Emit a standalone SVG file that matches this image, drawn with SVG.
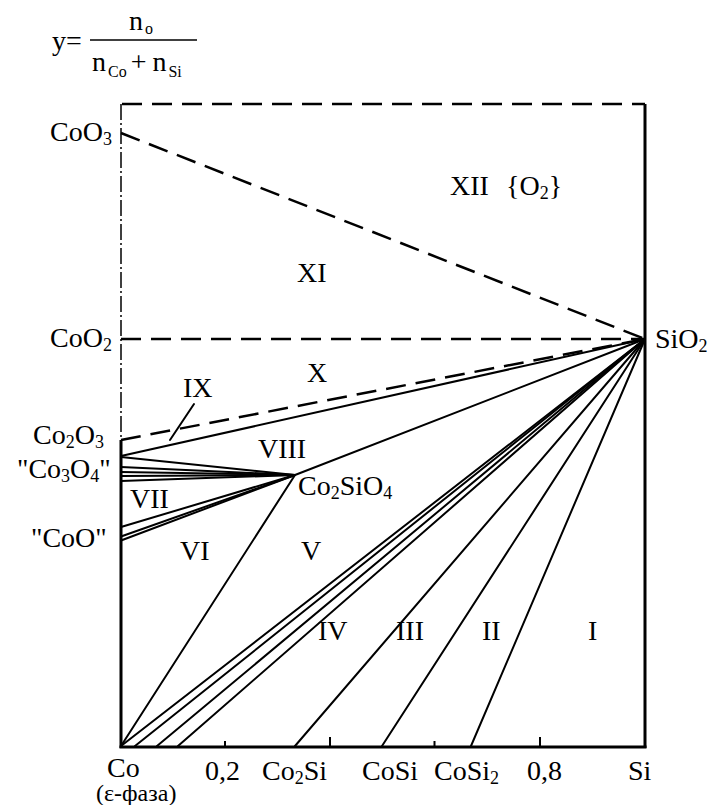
<svg xmlns="http://www.w3.org/2000/svg" width="710" height="805" viewBox="0 0 710 805" font-family="'Liberation Serif', 'DejaVu Serif', 'Times New Roman', serif">
<style>
text{font-family:'Liberation Serif','DejaVu Serif','Times New Roman',serif;font-size:28px;fill:#000}
.sub{font-size:18px}
.fs{font-size:16px}
.ln{stroke:#000;stroke-width:2;fill:none;stroke-linecap:round}
.ds{stroke:#000;stroke-width:2.5;fill:none;stroke-dasharray:20 10}
.ax{stroke:#000;stroke-width:3;fill:none}
.dd{stroke:#000;stroke-width:1.5;fill:none;stroke-dasharray:16 3 2 3}
</style>
<rect width="710" height="805" fill="#fff"/>
<g id="formula">
<text x="52" y="50">y=</text>
<text x="129" y="30">n<tspan class="fs" dx="2" dy="4">o</tspan></text>
<line x1="90" y1="40" x2="197" y2="40" stroke="#000" stroke-width="1.5"/>
<text x="92" y="71">n<tspan class="fs" dx="2" dy="6">Co</tspan><tspan dx="4" dy="-6">+</tspan><tspan dx="6">n</tspan><tspan class="fs" dx="2" dy="6">Si</tspan></text>
</g>
<g id="frame">
<line class="ds" x1="122" y1="104" x2="645" y2="104"/>
<line class="dd" x1="121" y1="104" x2="121" y2="440"/>
<line class="ax" x1="121" y1="440" x2="121" y2="748"/>
<line class="ax" x1="645" y1="104" x2="645" y2="748"/>
<line class="ax" x1="119.5" y1="747" x2="646.5" y2="747"/>
<line x1="225" y1="747" x2="225" y2="741" stroke="#000" stroke-width="2"/>
<line x1="330" y1="747" x2="330" y2="737" stroke="#000" stroke-width="2"/>
<line x1="434.5" y1="747" x2="434.5" y2="741" stroke="#000" stroke-width="2"/>
<line x1="540" y1="747" x2="540" y2="737" stroke="#000" stroke-width="2"/>
</g>
<g id="connectors">
<line class="ds" x1="121" y1="133" x2="645" y2="339"/>
<line class="ds" x1="121" y1="339" x2="645" y2="339"/>
<line class="ds" x1="121" y1="440" x2="645" y2="339"/>
<line class="ln" x1="121" y1="456" x2="645" y2="339"/>
<line class="ln" x1="295" y1="475" x2="645" y2="339"/>
<line class="ln" x1="121" y1="457" x2="295" y2="475"/>
<line class="ln" x1="121" y1="467" x2="295" y2="475"/>
<line class="ln" x1="121" y1="472" x2="295" y2="475"/>
<line class="ln" x1="121" y1="476" x2="295" y2="475"/>
<line class="ln" x1="121" y1="481" x2="295" y2="475"/>
<line class="ln" x1="121" y1="527" x2="295" y2="475"/>
<line class="ln" x1="121" y1="536.5" x2="295" y2="475"/>
<line class="ln" x1="121" y1="540.5" x2="295" y2="475"/>
<line class="ln" x1="121" y1="746" x2="295" y2="475"/>
<line class="ln" x1="121" y1="746" x2="645" y2="339"/>
<line class="ln" x1="135" y1="746" x2="645" y2="339"/>
<line class="ln" x1="157" y1="746" x2="645" y2="339"/>
<line class="ln" x1="178" y1="746" x2="645" y2="339"/>
<line class="ln" x1="295" y1="746" x2="645" y2="339"/>
<line class="ln" x1="382" y1="746" x2="645" y2="339"/>
<line class="ln" x1="471" y1="746" x2="645" y2="339"/>
<line class="ln" x1="194" y1="404" x2="170" y2="440" stroke-width="1.5"/>
</g>
<g id="labels-left">
<text x="50" y="141">CoO<tspan class="sub" dy="4">3</tspan></text>
<text x="50" y="347">CoO<tspan class="sub" dy="4">2</tspan></text>
<text x="33" y="444">Co<tspan class="sub" dy="4">2</tspan><tspan dy="-4">O</tspan><tspan class="sub" dy="4">3</tspan></text>
<text x="17" y="478">"Co<tspan class="sub" dy="4">3</tspan><tspan dy="-4">O</tspan><tspan class="sub" dy="4">4</tspan><tspan dy="-4">"</tspan></text>
<text x="31" y="547">"CoO"</text>
<text x="655" y="348">SiO<tspan class="sub" dy="4">2</tspan></text>
<text x="298" y="495">Co<tspan class="sub" dy="4">2</tspan><tspan dy="-4">SiO</tspan><tspan class="sub" dy="4">4</tspan></text>
</g>
<g id="regions">
<text x="450" y="195">XII</text>
<text x="506" y="195">{O<tspan class="sub" dy="4">2</tspan><tspan dy="-4">}</tspan></text>
<text x="297" y="282">XI</text>
<text x="307" y="382">X</text>
<text x="183" y="397">IX</text>
<text x="258" y="458">VIII</text>
<text x="130" y="508">VII</text>
<text x="180" y="560">VI</text>
<text x="301" y="560">V</text>
<text x="318" y="640">IV</text>
<text x="396" y="640">III</text>
<text x="482" y="640">II</text>
<text x="588" y="640">I</text>
</g>
<g id="axis-labels">
<text x="107" y="777">Co</text>
<text x="96" y="801" style="font-size:24px">(ε-фаза)</text>
<text x="205" y="780">0,2</text>
<text x="262" y="780">Co<tspan class="sub" dy="4">2</tspan><tspan dy="-4">Si</tspan></text>
<text x="362" y="780">CoSi</text>
<text x="434" y="780">CoSi<tspan class="sub" dy="4">2</tspan></text>
<text x="527" y="780">0,8</text>
<text x="628" y="780">Si</text>
</g>
</svg>
